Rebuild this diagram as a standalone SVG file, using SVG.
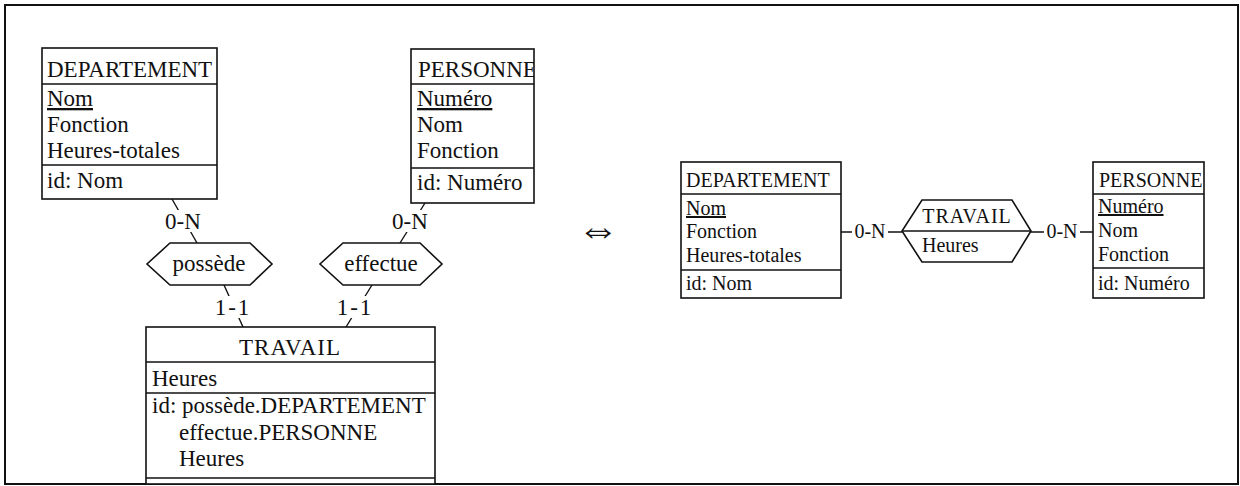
<svg xmlns="http://www.w3.org/2000/svg" width="1240" height="486" viewBox="0 0 1240 486">
  <style>
    text { font-family: "Liberation Serif", "Times New Roman", serif; fill: #111; }
    .big { font-size: 23px; }
    .small { font-size: 20px; }
    .box { fill: #fff; stroke: #111; stroke-width: 1.6; }
    .sep { stroke: #111; stroke-width: 1.4; fill: none; }
    .link { stroke: #111; stroke-width: 1.4; fill: none; }
    .lbl { fill: #fff; stroke: none; }
  </style>
  <defs>
    <clipPath id="clipPersL"><rect x="411" y="49" width="123" height="155"/></clipPath>
    <clipPath id="clipPersR"><rect x="1093" y="162" width="111" height="137"/></clipPath>
  </defs>

  <rect width="1240" height="486" fill="#fff"/>
  <!-- outer frame -->
  <rect x="5" y="5" width="1233" height="479" fill="none" stroke="#111" stroke-width="2"/>

  <!-- connectors -->
  <g id="connectors">
    <line class="link" x1="172" y1="199" x2="197" y2="243"/>
    <line class="link" x1="224" y1="285" x2="243" y2="327"/>
    <line class="link" x1="425" y1="203" x2="400" y2="243"/>
    <line class="link" x1="372" y1="285" x2="346" y2="327"/>
    <line class="link" x1="841" y1="232" x2="902" y2="232"/>
    <line class="link" x1="1031" y1="232" x2="1093" y2="232"/>
    <!-- cardinality labels -->
    <rect class="lbl" x="164" y="210" width="38" height="22"/>
    <text class="big" x="183" y="229" text-anchor="middle">0-N</text>
    <rect class="lbl" x="391" y="210" width="38" height="22"/>
    <text class="big" x="410" y="229" text-anchor="middle">0-N</text>
    <rect class="lbl" x="217" y="296" width="32" height="22"/>
    <text class="big" x="233" y="315" text-anchor="middle" letter-spacing="2">1-1</text>
    <rect class="lbl" x="339" y="296" width="32" height="22"/>
    <text class="big" x="355" y="315" text-anchor="middle" letter-spacing="2">1-1</text>
    <rect class="lbl" x="852" y="222" width="36" height="20"/>
    <text class="small" x="870" y="238" text-anchor="middle">0-N</text>
    <rect class="lbl" x="1044" y="222" width="36" height="20"/>
    <text class="small" x="1062" y="238" text-anchor="middle">0-N</text>
  </g>

  <!-- left schema: DEPARTEMENT -->
  <g id="dept-left">
    <rect class="box" x="42" y="48" width="175" height="151"/>
    <line class="sep" x1="42" y1="84" x2="217" y2="84"/>
    <line class="sep" x1="42" y1="165" x2="217" y2="165"/>
    <text class="big" x="47" y="77">DEPARTEMENT</text>
    <text class="big" x="47" y="106" text-decoration="underline">Nom</text>
    <text class="big" x="47" y="132">Fonction</text>
    <text class="big" x="47" y="158">Heures-totales</text>
    <text class="big" x="47" y="188">id: Nom</text>
  </g>

  <!-- left schema: PERSONNE -->
  <g id="pers-left">
    <rect class="box" x="411" y="49" width="123" height="154"/>
    <line class="sep" x1="411" y1="84" x2="534" y2="84"/>
    <line class="sep" x1="411" y1="168" x2="534" y2="168"/>
    <g clip-path="url(#clipPersL)">
      <text class="big" x="418" y="77">PERSONNE</text>
    </g>
    <text class="big" x="417" y="106" text-decoration="underline">Numéro</text>
    <text class="big" x="417" y="132">Nom</text>
    <text class="big" x="417" y="158">Fonction</text>
    <text class="big" x="417" y="190">id: Numéro</text>
  </g>

  <!-- relationship possède -->
  <g id="rel-possede">
    <polygon class="box" points="170,243 250,243 272,264 250,285 170,285 147,264"/>
    <text class="big" x="209" y="271" text-anchor="middle">possède</text>
  </g>

  <!-- relationship effectue -->
  <g id="rel-effectue">
    <polygon class="box" points="343,243 420,243 442,264 420,285 343,285 320,264"/>
    <text class="big" x="381" y="271" text-anchor="middle">effectue</text>
  </g>

  <!-- left schema: TRAVAIL -->
  <g id="travail-left">
    <rect class="box" x="146" y="327" width="289" height="157"/>
    <line class="sep" x1="146" y1="362" x2="435" y2="362"/>
    <line class="sep" x1="146" y1="393" x2="435" y2="393"/>
    <line class="sep" x1="146" y1="478" x2="435" y2="478"/>
    <text class="big" x="290" y="355" text-anchor="middle" letter-spacing="1">TRAVAIL</text>
    <text class="big" x="152" y="386">Heures</text>
    <text class="big" x="152" y="413">id: possède.DEPARTEMENT</text>
    <text class="big" x="179" y="440">effectue.PERSONNE</text>
    <text class="big" x="179" y="466">Heures</text>
  </g>

  <!-- equivalence sign -->
  <text x="598" y="243" font-family="DejaVu Sans, sans-serif" font-size="42" text-anchor="middle">⇔</text>

  <!-- right schema: DEPARTEMENT -->
  <g id="dept-right">
    <rect class="box" x="681" y="162" width="160" height="136"/>
    <line class="sep" x1="681" y1="194" x2="841" y2="194"/>
    <line class="sep" x1="681" y1="270" x2="841" y2="270"/>
    <text class="small" x="686" y="187">DEPARTEMENT</text>
    <text class="small" x="686" y="215" text-decoration="underline">Nom</text>
    <text class="small" x="686" y="238">Fonction</text>
    <text class="small" x="686" y="262">Heures-totales</text>
    <text class="small" x="686" y="290">id: Nom</text>
  </g>

  <!-- right schema: TRAVAIL relationship -->
  <g id="travail-right">
    <polygon class="box" points="922,200 1012,200 1031,231 1012,262 922,262 902,231"/>
    <line class="sep" x1="902" y1="231" x2="1031" y2="231"/>
    <text class="small" x="967" y="223" text-anchor="middle" letter-spacing="1">TRAVAIL</text>
    <text class="small" x="922" y="252">Heures</text>
  </g>

  <!-- right schema: PERSONNE -->
  <g id="pers-right">
    <rect class="box" x="1093" y="162" width="111" height="136"/>
    <line class="sep" x1="1093" y1="194" x2="1204" y2="194"/>
    <line class="sep" x1="1093" y1="268" x2="1204" y2="268"/>
    <g clip-path="url(#clipPersR)">
      <text class="small" x="1099" y="187">PERSONNE</text>
    </g>
    <text class="small" x="1098" y="213" text-decoration="underline">Numéro</text>
    <text class="small" x="1098" y="237">Nom</text>
    <text class="small" x="1098" y="261">Fonction</text>
    <text class="small" x="1098" y="290">id: Numéro</text>
  </g>
</svg>
